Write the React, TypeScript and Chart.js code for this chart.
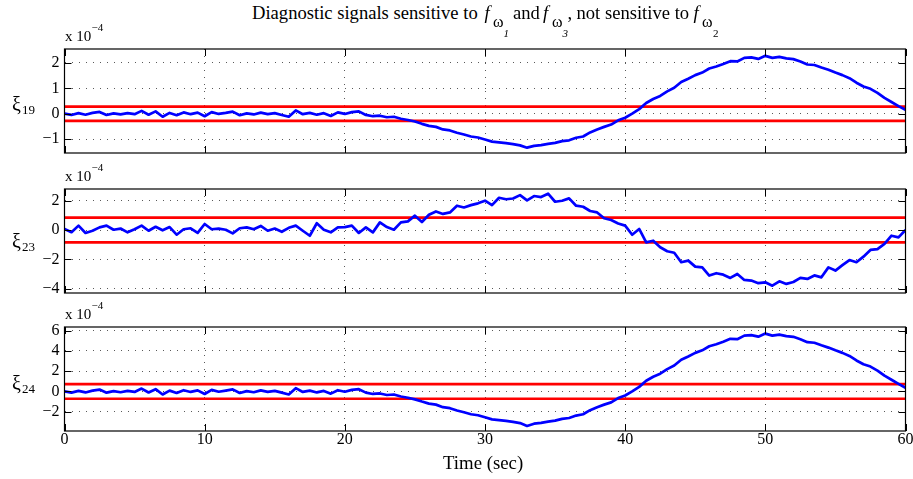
import React, { useEffect, useRef } from "react";
import { Chart, registerables } from "chart.js";

Chart.register(...registerables);

// ---------------- data (values in units of 1e-4) ----------------
const TIME_STEP_SEC = 0.5; // samples every 0.5 s, from 0 to 60 s
const X_TICKS = [0, 10, 20, 30, 40, 50, 60];

const xi19 = [
  0.0, -0.05, 0.02, -0.04, 0.03, 0.07, -0.05, 0.01, -0.03, 0.02,
  -0.02, 0.11, -0.04, 0.09, -0.12, 0.03, -0.06, 0.05, -0.02, 0.04,
  -0.1, 0.06, -0.01, 0.03, 0.08, -0.06, 0.01, -0.03, 0.04, -0.02,
  0.02, -0.05, -0.12, 0.13, -0.02, 0.03, -0.04, 0.02, -0.09, 0.05,
  -0.01, 0.06, 0.09, -0.05, -0.1, -0.08, -0.14, -0.12, -0.2, -0.25,
  -0.31, -0.4, -0.48, -0.52, -0.62, -0.66, -0.75, -0.82, -0.9, -0.94,
  -1.02, -1.1, -1.13, -1.16, -1.2, -1.25, -1.34, -1.27, -1.24, -1.19,
  -1.15, -1.08, -1.05, -0.95, -0.9, -0.74, -0.62, -0.52, -0.43, -0.26,
  -0.16, 0.0, 0.18, 0.42, 0.58, 0.7, 0.88, 1.02, 1.25, 1.38,
  1.52, 1.62, 1.78, 1.86, 1.96, 2.07, 2.06, 2.2, 2.22, 2.16,
  2.28, 2.2, 2.24, 2.18, 2.15, 2.06, 1.94, 1.92, 1.82, 1.73,
  1.62, 1.52, 1.4, 1.22, 1.07, 0.98, 0.82, 0.62, 0.46, 0.3, 0.15,
];

const xi23 = [
  0.07, -0.15, 0.3, -0.2, -0.05, 0.18, 0.3, 0.02, 0.1, -0.16,
  0.05, 0.3, -0.05, 0.22, -0.02, 0.2, -0.32, 0.05, 0.12, -0.2,
  0.41, 0.05, 0.1, 0.02, -0.23, 0.12, 0.18, 0.05, 0.28, -0.05,
  0.1, -0.12, 0.15, 0.3, -0.05, -0.39, 0.46, 0.02, -0.16, 0.18,
  0.2, 0.3, -0.2, 0.18, -0.16, 0.52, 0.2, 0.02, 0.52, 0.59,
  0.98, 0.55, 1.04, 1.27, 1.1, 1.2, 1.66, 1.54, 1.7, 1.82,
  2.0, 1.7, 2.2, 2.1, 2.15, 2.38, 2.02, 2.32, 2.25, 2.48,
  1.93, 2.0, 2.16, 1.66, 1.59, 1.3, 1.2, 0.8, 0.68, 0.45,
  0.3, -0.32, 0.07, -0.84, -0.73, -1.18, -1.45, -1.55, -2.2, -2.09,
  -2.5, -2.55, -3.11, -2.95, -3.05, -3.27, -3.0, -3.41, -3.45, -3.63,
  -3.57, -3.8, -3.5, -3.68, -3.55, -3.27, -3.34, -3.1, -3.23, -2.55,
  -2.77, -2.4, -2.05, -2.2, -1.82, -1.36, -1.3, -0.95, -0.39, -0.5, 0.0,
];

const xi24 = [
  0.0, -0.12, 0.05, -0.1, 0.08, 0.18, -0.12, 0.03, -0.08, 0.05,
  -0.05, 0.28, -0.1, 0.22, -0.3, 0.08, -0.15, 0.12, -0.05, 0.1,
  -0.25, 0.15, -0.03, 0.08, 0.2, -0.15, 0.03, -0.08, 0.1, -0.05,
  0.05, -0.12, -0.3, 0.32, -0.05, 0.08, -0.1, 0.05, -0.22, 0.12,
  -0.03, 0.15, 0.22, -0.12, -0.25, -0.2, -0.35, -0.3, -0.5, -0.62,
  -0.78, -1.0, -1.2, -1.3, -1.55, -1.65, -1.88, -2.05, -2.25, -2.35,
  -2.55, -2.75, -2.82, -2.9, -3.0, -3.12, -3.4, -3.18, -3.1, -2.98,
  -2.88, -2.7, -2.62, -2.38, -2.25, -1.85, -1.55, -1.3, -1.08, -0.65,
  -0.4, 0.0, 0.45, 1.05, 1.45, 1.75, 2.2, 2.55, 3.12, 3.45,
  3.8, 4.05, 4.45, 4.65, 4.9, 5.18, 5.15, 5.5, 5.55, 5.4,
  5.7, 5.5, 5.6, 5.45, 5.38, 5.15, 4.85, 4.8, 4.55, 4.32,
  4.05, 3.8, 3.5, 3.05, 2.68, 2.45, 2.05, 1.55, 1.15, 0.75, 0.35,
];

const thresholds = [0.28, 0.85, 0.72];
const yTicks19 = [-1, 0, 1, 2];
const yTicks23 = [-4, -2, 0, 2];
const yTicks24 = [-2, 0, 2, 4, 6];
const yRange19 = [-1.55, 2.55];
const yRange23 = [-4.3, 2.8];
const yRange24 = [-3.9, 6.35];
const signalNames = ["19", "23", "24"];

// ---------------- layout ----------------
const W = 913;
const H = 479;
const FONT = "'Liberation Serif', 'Times New Roman', serif";
const PLOT_LEFT = 64.5;
const PLOT_RIGHT = 905.5;
const PLOT_H = 104;
const PLOT_TOPS = [48.5, 188.5, 326.5];
const PAD = 16;

const fmt = (v: number) => (v < 0 ? "\u2212" + Math.abs(v) : String(v));

const boxPlugin = {
  id: "matlabBox",
  afterDraw(chart: any) {
    const { ctx, chartArea: a, scales } = chart;
    const x = scales.x;
    const y = scales.y;
    const L = 7;
    ctx.save();
    ctx.strokeStyle = "#000";
    ctx.lineWidth = 1;
    ctx.beginPath();
    x.ticks.forEach((t: any) => {
      const px = Math.round(x.getPixelForValue(t.value)) + 0.5;
      ctx.moveTo(px, a.bottom);
      ctx.lineTo(px, a.bottom - L);
      ctx.moveTo(px, a.top);
      ctx.lineTo(px, a.top + L);
    });
    y.ticks.forEach((t: any) => {
      const py = Math.round(y.getPixelForValue(t.value)) + 0.5;
      ctx.moveTo(a.left, py);
      ctx.lineTo(a.left + L, py);
      ctx.moveTo(a.right, py);
      ctx.lineTo(a.right - L, py);
    });
    ctx.stroke();
    ctx.lineWidth = 1.2;
    ctx.strokeRect(a.left, a.top, a.right - a.left, a.bottom - a.top);
    ctx.restore();
  },
};

type PanelProps = {
  values: number[];
  threshold: number;
  yRange: number[];
  yTicks: number[];
  top: number;
  showX: boolean;
};

function Panel({ values, threshold, yRange, yTicks, top, showX }: PanelProps) {
  const ref = useRef<HTMLCanvasElement>(null);
  const bottomSpace = showX ? 30 : PAD;
  const xAxisH = showX ? 20 : 0;
  const canvasH = PLOT_H + PAD + bottomSpace;
  useEffect(() => {
    if (!ref.current) return;
    const pts = values.map((v, i) => ({ x: i * TIME_STEP_SEC, y: v }));
    const tMax = X_TICKS[X_TICKS.length - 1];
    const grid = { color: "rgba(0,0,0,0.65)", lineWidth: 1, drawTicks: false };
    const border = { display: false, dash: [1, 6] };
    const tickFont = { family: FONT, size: 16, lineHeight: 1 };
    const chart = new Chart(ref.current, {
      type: "line",
      data: {
        datasets: [
          {
            data: pts,
            borderColor: "#0000ff",
            borderWidth: 2.7,
            pointRadius: 0,
            tension: 0,
            borderJoinStyle: "round",
          },
          {
            data: [
              { x: 0, y: threshold },
              { x: tMax, y: threshold },
            ],
            borderColor: "#ff0000",
            borderWidth: 2.7,
            pointRadius: 0,
          },
          {
            data: [
              { x: 0, y: -threshold },
              { x: tMax, y: -threshold },
            ],
            borderColor: "#ff0000",
            borderWidth: 2.7,
            pointRadius: 0,
          },
        ],
      } as any,
      options: {
        animation: false,
        responsive: false,
        events: [],
        layout: {
          padding: { left: 0, right: W - PLOT_RIGHT, top: PAD, bottom: bottomSpace - xAxisH },
        },
        plugins: { legend: { display: false }, tooltip: { enabled: false } },
        scales: {
          x: {
            type: "linear",
            min: X_TICKS[0],
            max: tMax,
            afterBuildTicks: (s: any) => {
              s.ticks = X_TICKS.map((v) => ({ value: v }));
            },
            afterFit: (s: any) => {
              s.height = xAxisH;
              s.paddingLeft = 0;
              s.paddingRight = 0;
            },
            grid,
            border,
            ticks: {
              display: showX,
              padding: 1,
              color: "#000",
              font: tickFont,
              maxRotation: 0,
              autoSkip: false,
              callback: (v: any) => fmt(Number(v)),
            },
          },
          y: {
            type: "linear",
            min: yRange[0],
            max: yRange[1],
            afterBuildTicks: (s: any) => {
              s.ticks = yTicks.map((v) => ({ value: v }));
            },
            afterFit: (s: any) => {
              s.width = PLOT_LEFT;
              s.paddingTop = 0;
              s.paddingBottom = 0;
            },
            grid,
            border,
            ticks: {
              padding: 5,
              color: "#000",
              font: tickFont,
              autoSkip: false,
              callback: (v: any) => fmt(Number(v)),
            },
          },
        },
      } as any,
      plugins: [boxPlugin],
    });
    return () => chart.destroy();
  }, []);
  return (
    <canvas
      ref={ref}
      width={W}
      height={canvasH}
      style={{ position: "absolute", left: 0, top: top - PAD, width: W, height: canvasH }}
    />
  );
}

const abs = (left: number, baseline: number, size: number, italic?: boolean): React.CSSProperties => ({
  position: "absolute",
  left,
  top: baseline - 0.8375 * size,
  fontSize: size,
  lineHeight: 1,
  fontFamily: FONT,
  fontStyle: italic ? "italic" : "normal",
  whiteSpace: "nowrap",
  color: "#000",
});

function T({ x, b, s, i, children }: { x: number; b: number; s: number; i?: boolean; children: React.ReactNode }) {
  return <div style={abs(x, b, s, i)}>{children}</div>;
}

export default function App() {
  const series = [xi19, xi23, xi24];
  const ranges = [yRange19, yRange23, yRange24];
  const ticks = [yTicks19, yTicks23, yTicks24];
  const xiBaselines = [110.5, 247.5, 389.5];
  const TB = 19.3; // title baseline
  const SB = 27; // subscript baseline
  const SSB = 37; // sub-subscript baseline
  const TS = 18.6; // title font size
  return (
    <div style={{ position: "absolute", left: 0, top: 0, width: W, height: H, overflow: "hidden", background: "#fff" }}>
      {series.map((vals, i) => (
        <Panel
          key={i}
          values={vals}
          threshold={thresholds[i]}
          yRange={ranges[i]}
          yTicks={ticks[i]}
          top={PLOT_TOPS[i]}
          showX={i === series.length - 1}
        />
      ))}
      {/* title */}
      <T x={252} b={TB} s={TS}>Diagnostic signals sensitive to</T>
      <T x={484.5} b={TB} s={TS} i>f</T>
      <T x={493} b={SB} s={16}>ω</T>
      <T x={503.5} b={SSB} s={11} i>1</T>
      <T x={513} b={TB} s={TS}>and</T>
      <T x={543} b={TB} s={TS} i>f</T>
      <T x={552} b={SB} s={16}>ω</T>
      <T x={562.5} b={SSB} s={11} i>3</T>
      <T x={567.5} b={TB} s={TS}>,</T>
      <T x={576.5} b={TB} s={TS}>not sensitive to</T>
      <T x={693.5} b={TB} s={TS} i>f</T>
      <T x={702} b={SB} s={16}>ω</T>
      <T x={713} b={SSB} s={11}>2</T>
      {/* exponent labels */}
      {PLOT_TOPS.map((t, i) => (
        <React.Fragment key={"e" + i}>
          <T x={65} b={t - 6.8} s={15}>x 10</T>
          <T x={91.5} b={t - 16.8} s={11}>{"\u2212"}4</T>
        </React.Fragment>
      ))}
      {/* y labels */}
      {signalNames.map((n, i) => (
        <React.Fragment key={"y" + i}>
          <T x={12} b={xiBaselines[i]} s={20}>ξ</T>
          <T x={22} b={xiBaselines[i] + 3} s={13}>{n}</T>
        </React.Fragment>
      ))}
      {/* x label */}
      <T x={443} b={470} s={18.8}>Time (sec)</T>
    </div>
  );
}
